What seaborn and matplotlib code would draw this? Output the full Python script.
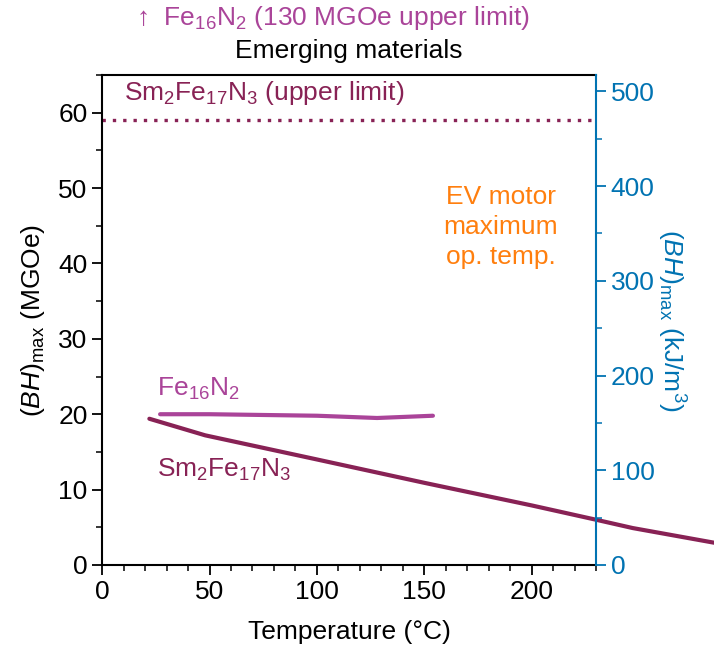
import numpy as np
import pandas as pd
import seaborn as sns
import matplotlib
matplotlib.use("Agg")
import matplotlib.pyplot as plt
from matplotlib.ticker import MultipleLocator

# Energy product vs. temperature for emerging permanent-magnet materials
sm_temp = [22, 48, 100, 150, 200, 230, 247, 286]
sm_bh = [19.4, 17.2, 14.0, 10.9, 7.9, 6.0, 4.9, 2.9]

fe_temp = [27, 50, 100, 128, 154]
fe_bh = [20.0, 20.0, 19.8, 19.5, 19.8]

sm_upper_limit = 59.0
mgoe_to_kjm3 = 7.9577

x_max = 230
y_max = 65

c_fe = "#AA4499"
c_sm = "#882255"
c_ev = "#FF7F0E"
c_right = "#0173B2"

sns.set_theme(style="ticks")
plt.rcParams["font.family"] = ["Liberation Sans", "DejaVu Sans"]
plt.rcParams["mathtext.fontset"] = "custom"
plt.rcParams["mathtext.rm"] = "Liberation Sans"
plt.rcParams["mathtext.it"] = "Liberation Sans:italic"
plt.rcParams["mathtext.bf"] = "Liberation Sans:bold"
for key in ["text.color", "axes.labelcolor", "xtick.color", "ytick.color",
            "axes.edgecolor"]:
    plt.rcParams[key] = "black"
fs = 19

fig = plt.figure(figsize=(7.14, 6.46), dpi=100)
ax = fig.add_axes([0.143, 0.1254, 0.692, 0.7585])

sm_df = pd.DataFrame({"T": sm_temp, "BH": sm_bh})
fe_df = pd.DataFrame({"T": fe_temp, "BH": fe_bh})

sns.lineplot(data=sm_df, x="T", y="BH", ax=ax, color=c_sm, lw=3,
             sort=False, estimator=None, clip_on=False)
sns.lineplot(data=fe_df, x="T", y="BH", ax=ax, color=c_fe, lw=3,
             sort=False, estimator=None)
ax.axhline(sm_upper_limit, color=c_sm, lw=2.4, linestyle=(0, (1, 2.1)))

ax.set_xlim(0, x_max)
ax.set_ylim(0, y_max)
ax.xaxis.set_major_locator(MultipleLocator(50))
ax.xaxis.set_minor_locator(MultipleLocator(10))
ax.yaxis.set_major_locator(MultipleLocator(10))
ax.yaxis.set_minor_locator(MultipleLocator(5))
ax.tick_params(which="major", length=7, width=1.3, labelsize=fs, color="black")
ax.tick_params(which="minor", length=4, width=1.1, color="black")
for s in ax.spines.values():
    s.set_linewidth(1.5)
    s.set_color("black")
ax.spines["right"].set_visible(False)

ax.set_xlabel("Temperature (°C)", fontsize=fs, labelpad=12)
ax.set_ylabel(r"$(\mathit{BH})_{\mathrm{max}}$ (MGOe)", fontsize=fs, labelpad=8)
ax.set_title("Emerging materials", fontsize=fs, pad=12)

ax2 = ax.twinx()
ax2.set_ylim(0, y_max * mgoe_to_kjm3)
ax2.yaxis.set_major_locator(MultipleLocator(100))
ax2.yaxis.set_minor_locator(MultipleLocator(50))
ax2.tick_params(which="major", length=7, width=1.3, labelsize=fs,
                color=c_right, labelcolor=c_right)
ax2.tick_params(which="minor", length=4, width=1.1, color=c_right)
for name, s in ax2.spines.items():
    s.set_visible(name == "right")
ax2.spines["right"].set_color(c_right)
ax2.spines["right"].set_linewidth(1.5)
ax2.set_ylabel(r"$(\mathit{BH})_{\mathrm{max}}$ (kJ/m$^3$)", fontsize=fs,
               color=c_right, rotation=270, labelpad=23)

# Annotations
ax.text(10.4, 62.6, r"Sm$_2$Fe$_{17}$N$_3$ (upper limit)", color=c_sm,
        fontsize=fs, ha="left", va="center")
ax.text(25.4, 23.3, r"Fe$_{16}$N$_2$", color=c_fe, fontsize=fs,
        ha="left", va="center")
ax.text(25.4, 12.6, r"Sm$_2$Fe$_{17}$N$_3$", color=c_sm, fontsize=fs,
        ha="left", va="center")
ax.text(185.5, 44.8, "EV motor\nmaximum\nop. temp.", color=c_ev, fontsize=fs,
        ha="center", va="center", linespacing=1.32)
ax.text(15.9, 72.6, r"↑  Fe$_{16}$N$_2$ (130 MGOe upper limit)", color=c_fe,
        fontsize=fs, ha="left", va="center", clip_on=False)

fig.savefig("out.png", dpi=100)
